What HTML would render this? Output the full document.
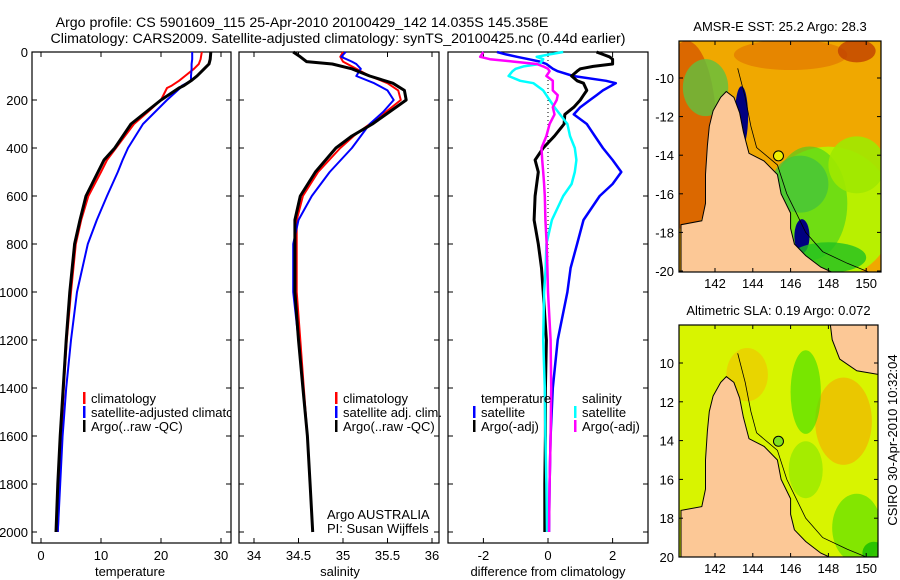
<!DOCTYPE html>
<html><head><meta charset="utf-8">
<style>
body{margin:0;background:#fff;}
svg{display:block;font-family:"Liberation Sans",sans-serif;}
text{fill:#000;}
</style></head>
<body>
<svg id="fig" width="900" height="580" viewBox="0 0 900 580">
<defs><clipPath id="p1clip"><rect x="32" y="52" width="199" height="491"/></clipPath></defs>
<text x="302" y="27" font-size="14.2" text-anchor="middle">Argo profile: CS 5901609_115 25-Apr-2010 20100429_142 14.035S 145.358E</text>
<text x="338" y="43" font-size="14.2" text-anchor="middle">Climatology: CARS2009. Satellite-adjusted climatology: synTS_20100425.nc (0.44d earlier)</text>
<g id="plots"></g>
<g id="maps"></g>
<text transform="translate(897,440) rotate(-90)" font-size="13" text-anchor="middle">CSIRO 30-Apr-2010 10:32:04</text>
</svg>
<script>
// ---- profile data (depth in m) ----
const tDepth=[0,30,50,70,100,120,140,150,200,250,300,400,450,500,600,700,800,1000,1200,1400,1600,1800,2000];
const tClim=[26.8,26.6,26.3,25.5,24,23,21.8,21,20,17.8,15.5,12.5,11,10,7.9,6.7,5.8,5,4.3,3.8,3.4,3.1,2.8];
const tSat=[25.2,25.2,25.1,25.1,25,25,23.5,23.2,21,19,17,14.5,13.6,12.8,11,9.3,7.8,6,5,4.2,3.6,3.2,2.8];
const tArgo=[28.3,28.2,28,27.2,26,25,23.8,23,20,17.5,15,12.3,10.5,9.5,7.5,6.5,5.6,4.8,4.2,3.7,3.2,2.8,2.5];
const sDepth=[0,20,40,50,70,100,130,160,200,250,300,350,400,500,600,700,800,1000,1200,1400,1600,1800,2000];
const sClim=[35.0,34.97,35.0,35.05,35.15,35.3,35.5,35.62,35.65,35.48,35.3,35.12,34.97,34.72,34.55,34.48,34.48,34.48,34.52,34.56,34.6,34.63,34.66];
const sSat=[35.03,34.98,35.1,35.15,35.2,35.15,35.35,35.5,35.57,35.45,35.3,35.2,35.1,34.85,34.65,34.5,34.44,34.44,34.5,34.55,34.6,34.63,34.66];
const sArgo=[34.44,34.52,34.59,34.88,35.1,35.3,35.56,35.69,35.71,35.52,35.33,35.1,34.92,34.69,34.52,34.46,34.46,34.46,34.5,34.55,34.6,34.63,34.66];
const dDepth=[0,10,20,30,40,50,60,70,80,100,120,130,160,180,200,230,260,300,350,400,450,500,550,600,700,800,900,1000,1200,1400,1600,1800,2000];
const dTsat=[-1.58,-1.3,-0.96,-0.6,-0.25,-0.05,0.05,0.15,0.3,0.78,1.8,2.1,1.7,1.5,1.3,1.0,0.8,1.2,1.45,1.7,2.0,2.27,2.0,1.6,1.1,0.9,0.7,0.6,0.3,0.15,0.08,0.05,0.03];
const dTargo=[1.5,1.7,1.9,2.0,2.0,2.0,1.4,1.0,0.9,0.73,0.9,1.1,1.2,1.1,1.0,0.8,0.52,0.5,0.2,-0.15,-0.4,-0.3,-0.35,-0.4,-0.43,-0.3,-0.2,-0.15,-0.05,-0.08,-0.08,-0.1,-0.1];
const dSsat=[0.47,0.05,-0.35,-0.15,-0.2,-0.25,-0.76,-1.0,-1.1,-1.22,-0.86,-0.45,-0.15,-0.05,0.05,0.2,0.37,0.6,0.68,0.83,0.88,0.83,0.73,0.47,0.12,-0.05,-0.07,-0.12,-0.15,-0.1,-0.08,-0.05,-0.03];
const dSargo=[-2.0,-2.05,-2.1,-1.8,-1.07,-0.35,-0.15,0.0,0.05,-0.05,0.15,0.15,0.15,0.3,0.27,0.15,0.2,0.05,-0.05,-0.2,-0.18,-0.15,-0.12,-0.1,-0.08,-0.04,-0.02,0.0,0.08,0.1,0.08,0.05,0.03];
const depthTicks=[0,200,400,600,800,1000,1200,1400,1600,1800,2000];
const tTicks=[0,10,20,30];
const sTicks=[34,34.5,35,35.5,36];
const dTicks=[-2,0,2];
const mapLonTicks=[142,144,146,148,150];
const mapLatTicks=[10,12,14,16,18,20];

const NS='http://www.w3.org/2000/svg';
function mk(tag,attrs,parent){const e=document.createElementNS(NS,tag);for(const k in attrs)e.setAttribute(k,attrs[k]);parent.appendChild(e);return e;}
const plots=document.getElementById('plots');
const yD=d=>52+d*0.24;
const TOP=52,BOT=543;
const panels=[
 {x0:32,x1:231,sx:v=>41+v*6,ticks:tTicks,title:'temperature',tx:130,name:'temperature-panel'},
 {x0:239,x1:439,sx:v=>254+(v-34)*89,ticks:sTicks,title:'salinity',tx:340,name:'salinity-panel'},
 {x0:448,x1:648,sx:v=>548+v*32.3,ticks:dTicks,title:'difference from climatology',tx:548,name:'difference-panel'}
];
panels.forEach((p,i)=>{
 const g=mk('g',{},plots);
 
 
 const r=mk('rect',{x:p.x0,y:TOP,width:p.x1-p.x0,height:BOT-TOP,fill:'#fff',stroke:'#000','stroke-width':1.2},g);
 
 
 depthTicks.forEach(d=>{
  mk('line',{x1:p.x0,x2:p.x0+5,y1:yD(d),y2:yD(d),stroke:'#000'},g);
  mk('line',{x1:p.x1,x2:p.x1-5,y1:yD(d),y2:yD(d),stroke:'#000'},g);
 });
 p.ticks.forEach(v=>{
  const x=p.sx(v);
  mk('line',{x1:x,x2:x,y1:BOT,y2:BOT-5,stroke:'#000'},g);
  mk('line',{x1:x,x2:x,y1:TOP,y2:TOP+5,stroke:'#000'},g);
  const t=mk('text',{x:x,y:560,'font-size':13,'text-anchor':'middle'},g);
  t.textContent=String(v);
  
  
 });
 const xt=mk('text',{x:p.tx,y:576,'font-size':13,'text-anchor':'middle'},g);
 xt.textContent=p.title;
 
 
});
depthTicks.forEach(d=>{
 const t=mk('text',{x:28,y:yD(d)+5,'font-size':13,'text-anchor':'end'},plots);
 t.textContent=String(d);
 
 
});
function line(depths,vals,sx,color,w,name){
 const pts=depths.map((d,i)=>sx(vals[i]).toFixed(1)+','+yD(d).toFixed(1)).join(' ');
 const pl=mk('polyline',{points:pts,fill:'none',stroke:color,'stroke-width':w,'stroke-linejoin':'round'},plots);
 
 
}
const P=panels;
line(tDepth,tClim,P[0].sx,'#ff0000',2,'temp-climatology-line');
line(tDepth,tSat,P[0].sx,'#0000ff',2,'temp-satellite-line');
line(tDepth,tArgo,P[0].sx,'#000',3,'temp-argo-line');
line(sDepth,sClim,P[1].sx,'#ff0000',2,'sal-climatology-line');
line(sDepth,sSat,P[1].sx,'#0000ff',2,'sal-satellite-line');
line(sDepth,sArgo,P[1].sx,'#000',3,'sal-argo-line');
const zl=mk('line',{x1:P[2].sx(0),x2:P[2].sx(0),y1:TOP,y2:yD(900),stroke:'#000','stroke-dasharray':'1,3'},plots);


line(dDepth,dTsat,P[2].sx,'#0000ff',2.5,'diff-temp-satellite-line');
line(dDepth,dTargo,P[2].sx,'#000',3,'diff-temp-argo-line');
line(dDepth,dSsat,P[2].sx,'#00ffff',2.5,'diff-sal-satellite-line');
line(dDepth,dSargo,P[2].sx,'#ff00ff',2.5,'diff-sal-argo-line');
// legends
const legClip=mk('g',{'clip-path':'url(#p1clip)'},plots);
function leg(x,y,color,label,name,parent){
 parent=parent||plots;
 if(color){const b=mk('rect',{x:x-8,y:y-11,width:2.5,height:12,fill:color},parent);
 
 }
 const t=mk('text',{x:x,y:y,'font-size':13},parent);
 t.textContent=label;
 
 
}
leg(91,403,'#ff0000','climatology','legend-climatology',legClip);
leg(91,417,'#0000ff','satellite-adjusted climatology','legend-satellite',legClip);
leg(91,431,'#000','Argo(..raw -QC)','legend-argo',legClip);
leg(343,403,'#ff0000','climatology','legend2-climatology');
leg(343,417,'#0000ff','satellite adj. clim.','legend2-satellite');
leg(343,431,'#000','Argo(..raw -QC)','legend2-argo');
leg(481,403,null,'temperature','legend3-temperature');
leg(582,403,null,'salinity','legend3-salinity');
leg(481,417,'#0000ff','satellite','legend3-temp-satellite');
leg(481,431,'#000','Argo(-adj)','legend3-temp-argo');
leg(582,417,'#00ffff','satellite','legend3-sal-satellite');
leg(582,431,'#ff00ff','Argo(-adj)','legend3-sal-argo');
leg(327,519,null,'Argo AUSTRALIA','credit-argo-australia');
leg(327,533,null,'PI: Susan Wijffels','credit-pi');

// ---- maps ----
const maps=document.getElementById('maps');
const landPoly=[[142.6,10.7],[142.3,11],[141.9,11.7],[141.7,12.5],[141.6,13.5],[141.5,15],[141.5,16.5],[141.3,17.4],[140.2,17.6],[140.2,20.2],[148.5,20.2],[147.6,19.8],[146.8,19.2],[146.2,18.6],[146,17.8],[146,17],[145.5,16],[145.3,15],[144.6,14.3],[143.8,13.9],[143.5,12.8],[143.3,11.8],[143,11]];
const pngPoly=[[148.1,8.0],[148.2,8.8],[148.6,9.8],[149.5,10.4],[150.7,10.6],[150.7,8.0]];
function drawMap(cfg){
 const g=mk('g',{},maps);
 
 
 const X=lon=>715+(lon-142)*18.9, Y=lat=>cfg.y10+(lat-10)*cfg.ky;
 const cp='clip-'+cfg.name;
 const c=mk('clipPath',{id:cp},g);mk('rect',{x:679,y:cfg.top,width:cfg.right-679,height:cfg.bot-cfg.top},c);
 const inner=mk('g',{'clip-path':'url(#'+cp+')'},g);
 mk('rect',{x:679,y:cfg.top,width:cfg.right-679,height:cfg.bot-cfg.top,fill:cfg.base},inner);
 cfg.blobs.forEach(b=>mk('ellipse',{cx:X(b[0]),cy:Y(b[1]),rx:b[2]*18.9,ry:b[3]*19,fill:b[4],opacity:b[5]},inner));
 const pts=p=>p.map(q=>X(q[0]).toFixed(1)+','+Y(q[1]).toFixed(1)).join(' ');
 const land=mk('polygon',{points:pts(landPoly),fill:'#fcc896',stroke:'#000','stroke-width':1},inner);
 
 
 if(cfg.png){const pg=mk('polygon',{points:pts(pngPoly),fill:'#fcc896',stroke:'#000','stroke-width':1},inner);
 
 }
 const reef=[[143.2,9.5],[143.6,11],[143.9,12.5],[144.2,13.6],[145.3,14.5],[145.8,16],[146.3,17],[146.8,18],[147.7,19],[149,19.6],[150.5,20.2]];
 mk('polyline',{points:pts(reef),fill:'none',stroke:'#000','stroke-width':0.8},inner);
 const m=mk('circle',{cx:X(145.358),cy:Y(14.035),r:5,fill:cfg.marker,stroke:'#000','stroke-width':1},inner);
 
 
 mk('rect',{x:679,y:cfg.top,width:cfg.right-679,height:cfg.bot-cfg.top,fill:'none',stroke:'#000','stroke-width':1.2},g);
 mapLonTicks.forEach(l=>{const x=X(l);
  mk('line',{x1:x,x2:x,y1:cfg.bot,y2:cfg.bot-4,stroke:'#000'},g);
  mk('line',{x1:x,x2:x,y1:cfg.top,y2:cfg.top+4,stroke:'#000'},g);
  const t=mk('text',{x:x,y:cfg.bot+16,'font-size':13,'text-anchor':'middle'},g);t.textContent=String(l);
  
  });
 mapLatTicks.forEach(l=>{const y=Y(l);
  mk('line',{x1:679,x2:683,y1:y,y2:y,stroke:'#000'},g);
  mk('line',{x1:cfg.right,x2:cfg.right-4,y1:y,y2:y,stroke:'#000'},g);
  const t=mk('text',{x:674,y:y+5,'font-size':13,'text-anchor':'end'},g);t.textContent=(cfg.neg?'-':'')+l;
  
  });
 const tt=mk('text',{x:(679+cfg.right)/2,y:cfg.top-10,'font-size':13,'text-anchor':'middle'},g);
 tt.textContent=cfg.title;
 
 
}
drawMap({name:'sst-map',top:41,bot:272,right:881,y10:78,ky:19.3,neg:true,base:'#f0a800',marker:'#f0f000',png:false,
 title:'AMSR-E SST: 25.2 Argo: 28.3',
 blobs:[[140.5,13,1.6,5,'#d86000',0.9],[141.5,10.5,1.2,1.5,'#60c040',0.8],[148,17,3.5,3.5,'#b8f000',1],[147,16.5,2,3,'#40d020',0.6],[149.5,14.5,1.5,1.5,'#a0e800',0.9],[146.5,15.5,1.5,1.5,'#40c040',0.7],[143.4,12,0.35,1.6,'#000080',1],[146.6,18.2,0.4,0.9,'#000080',1],[148,19.3,2,0.8,'#20c020',0.8],[146,8.8,3,0.8,'#e07000',0.6],[149.5,8.6,1,0.6,'#c04000',0.8]]});
drawMap({name:'sla-map',top:325,bot:557,right:878,y10:363,ky:19.4,neg:false,base:'#d8f400',marker:'#80e020',png:true,
 title:'Altimetric SLA: 0.19 Argo: 0.072',
 blobs:[[143.7,10.6,1.1,1.4,'#f0c800',0.7],[148.8,13,1.5,2.3,'#f0b800',0.75],[146.8,11.5,0.8,2.2,'#50e000',0.7],[146.8,15.5,0.9,1.5,'#90e800',0.7],[149.5,18.5,1.3,1.8,'#60e000',0.7],[150.4,19.8,0.6,0.6,'#20c000',0.9]]});
</script>
</body></html>
